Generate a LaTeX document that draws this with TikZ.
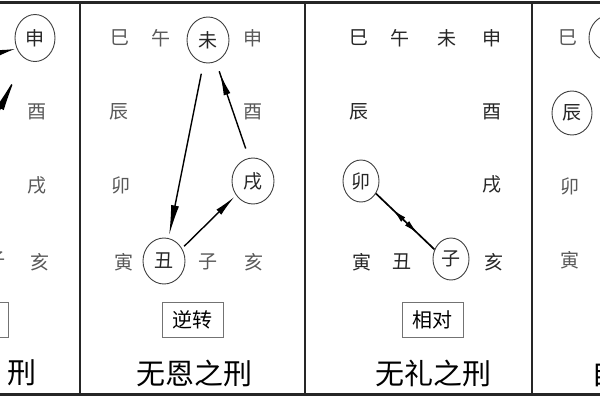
\documentclass[tikz,border=0pt]{standalone}
\usepackage{fontspec}
\setmainfont{Noto Sans CJK SC}
\usetikzlibrary{arrows.meta,decorations.markings,shapes.geometric}
\begin{document}
\begin{tikzpicture}[x=1pt,y=-1pt,
  zhi/.style={font=\fontsize{19}{19}\selectfont, text=black!65, inner sep=0pt},
  zhidk/.style={zhi, text=black!85},
  ring/.style={ellipse, draw=black!75, line width=0.9pt, minimum width=42pt, minimum height=46pt, inner sep=0pt},
  ringsm/.style={ring, minimum width=36pt, minimum height=42pt},
  lbl/.style={draw=black!55, line width=0.8pt, minimum width=61pt, minimum height=35pt, font=\fontsize{20}{20}\selectfont, inner sep=0pt},
  ttl/.style={font=\fontsize{29}{29}\selectfont, inner sep=0pt},
  framel/.style={line width=2.5pt, black!85},
  link/.style={line width=1.4pt},
  midarrow/.style={postaction={decorate}, decoration={markings, mark=at position #1 with {\arrow{Latex[length=22pt,width=7pt]}}}},
  twoheads/.style={postaction={decorate}, decoration={markings,
     mark=at position 0.28 with {\arrowreversed{Latex[length=15pt,width=6pt]}},
     mark=at position 0.72 with {\arrow{Latex[length=15pt,width=6pt]}}}}
]
\useasboundingbox (0,0) rectangle (600,400);
\fill[white] (0,0) rectangle (600,400);
\clip (0,0) rectangle (600,400);

% frame
\draw[framel, line width=3pt] (0,2) -- (600,2);
\draw[framel, line width=3pt] (0,394) -- (600,394);
\draw[framel] (80,2) -- (80,394);
\draw[framel] (305,2) -- (305,394);
\draw[framel] (532,2) -- (532,394);

% panel 1 (partial)
\node[ring, minimum width=40pt, minimum height=47pt, zhidk] (shen1) at (35,38) {申};
\node[zhi] (you1) at (37,112) {酉};
\node[zhi] (xu1) at (37,185) {戌};
\node[zhi] (hai1) at (40,262) {亥};
\node[zhi] (zi1) at (-4,260) {子};
\node[lbl] (box1) at (-22,319.5) {};
\node[ttl] (title1) at (22,373) {刑};
\coordinate (p1a) at (-40,62);
\coordinate (p1b) at (-30,170);
\coordinate (p1c) at (16,76);
\draw[link, -{Latex[length=20pt,width=7pt]}, shorten >=1pt] (p1a) -- (shen1.210);
\draw[link, -{Latex[length=36pt,width=8pt]}] (p1b) -- (p1c);

% panel 2
\node[zhi] (si2) at (120,38) {巳};
\node[zhi] (wu2) at (161,38) {午};
\node[ring, zhidk] (wei2) at (208,40) {未};
\node[zhi] (shen2) at (253,38) {申};
\node[zhi] (chen2) at (119,112) {辰};
\node[zhi] (you2) at (253,112) {酉};
\node[zhi] (mao2) at (121,185) {卯};
\node[ring, zhidk] (xu2) at (253,181) {戌};
\node[zhi] (yin2) at (124,262) {寅};
\node[ring, zhidk] (chou2) at (164,261) {丑};
\node[zhi] (zi2) at (208,262) {子};
\node[zhi] (hai2) at (254,262) {亥};
\node[lbl] (box2) at (192.5,319.5) {逆转};
\node[ttl] (title2) at (194,373) {无恩之刑};
\draw[link, -{Latex[length=30pt,width=8pt]}, shorten <=11pt, shorten >=3pt] (wei2) -- (chou2);
\draw[link, midarrow=0.88, shorten <=10pt, shorten >=10pt] (xu2.100) -- (wei2.-70);
\draw[link, -{Latex[length=22pt,width=7pt]}, shorten <=3pt, shorten >=2pt] (chou2.35) -- (xu2.220);

% panel 3
\node[zhidk] (si3) at (359,38) {巳};
\node[zhidk] (wu3) at (400,38) {午};
\node[zhidk] (wei3) at (447,38) {未};
\node[zhidk] (shen3) at (492,38) {申};
\node[zhidk] (chen3) at (359,112) {辰};
\node[zhidk] (you3) at (492,112) {酉};
\node[ringsm, zhidk] (mao3) at (361,181) {卯};
\node[zhidk] (xu3) at (492,184) {戌};
\node[zhidk] (yin3) at (362,262) {寅};
\node[zhidk] (chou3) at (402,262) {丑};
\node[ringsm, zhidk] (zi3) at (451,259) {子};
\node[zhidk] (hai3) at (494,262) {亥};
\node[lbl] (box3) at (432.5,319.5) {相对};
\node[ttl] (title3) at (433,373) {无礼之刑};
\draw[link, line width=1.7pt, twoheads] (mao3.-40) -- (zi3.150);

% panel 4 (partial)
\node[zhi] (si4) at (568,38) {巳};
\node[ring] (wu4) at (610,38) {};
\node[ring, minimum width=40pt, minimum height=44pt, zhidk] (chen4) at (572,113) {辰};
\node[zhi] (mao4) at (570,186) {卯};
\node[zhi] (yin4) at (570,260) {寅};
\node[ttl, anchor=west] (title4) at (591,373) {自刑};
\end{tikzpicture}
\end{document}
